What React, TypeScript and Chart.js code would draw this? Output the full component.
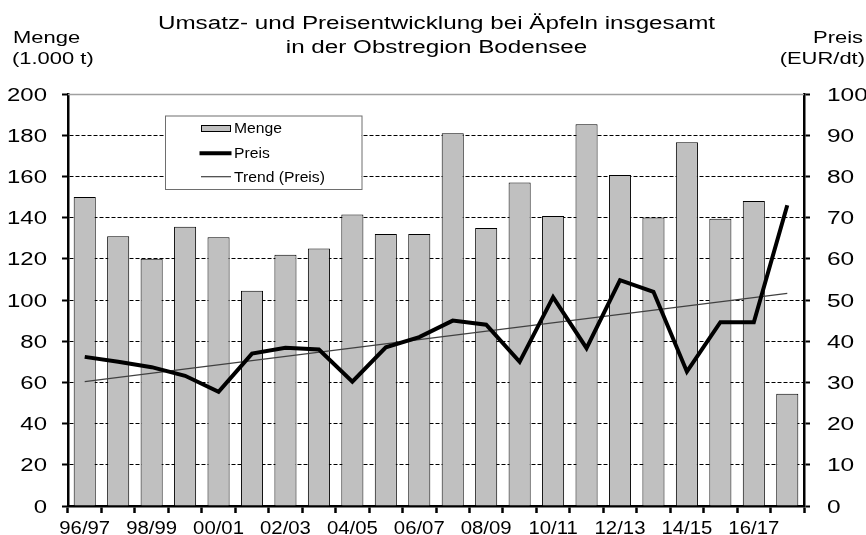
import React, { useEffect, useRef } from "react";
import { Chart, registerables } from "chart.js";

Chart.register(...registerables);

const categories = [
  "96/97", "97/98", "98/99", "99/00", "00/01", "01/02", "02/03", "03/04",
  "04/05", "05/06", "06/07", "07/08", "08/09", "09/10", "10/11", "11/12",
  "12/13", "13/14", "14/15", "15/16", "16/17", "17/18",
];

const mengeValues = [
  150, 131, 120, 135.5, 130.5, 104.5, 122, 125, 141.5, 132, 132,
  181, 135, 157, 140.8, 185.3, 160.7, 140, 176.6, 139.5, 148, 54.5,
];

const preisValues = [
  36.2, 35, 33.7, 31.6, 27.7, 37, 38.4, 38, 30.2, 38.5, 41,
  45, 44, 35, 50.7, 38.3, 54.8, 52, 32.6, 44.6, 44.6, 73,
];

// Trend line: only its two end points, drawn straight by the library (spanGaps)
const trendValues: (number | null)[] = [
  30.2, null, null, null, null, null, null, null, null, null, null,
  null, null, null, null, null, null, null, null, null, null, 51.6,
];

const leftTicks = [0, 20, 40, 60, 80, 100, 120, 140, 160, 180, 200];
const rightTicks = [0, 10, 20, 30, 40, 50, 60, 70, 80, 90, 100];

const titleLines = [
  "Umsatz- und Preisentwicklung bei Äpfeln insgesamt",
  "in der Obstregion Bodensee",
];
const leftAxisTitle = ["Menge", "(1.000 t)"];
const rightAxisTitle = ["Preis", "(EUR/dt)"];
const legendLabels = ["Menge", "Preis", "Trend (Preis)"];

const FONT = "'Liberation Sans', Arial, Helvetica, sans-serif";

function drawText(
  ctx: CanvasRenderingContext2D,
  text: string,
  x: number,
  y: number,
  size: number,
  sx: number,
  align: "left" | "center" | "right",
  baseline: CanvasTextBaseline = "alphabetic"
) {
  ctx.save();
  ctx.font = `${size}px ${FONT}`;
  ctx.fillStyle = "#000";
  ctx.textBaseline = baseline;
  ctx.textAlign = "left";
  const w = ctx.measureText(text).width * sx;
  const left = align === "center" ? x - w / 2 : align === "right" ? x - w : x;
  ctx.translate(left, y);
  ctx.scale(sx, 1);
  ctx.fillText(text, 0, 0);
  ctx.restore();
}

const decorPlugin = {
  id: "decor",
  beforeDatasetsDraw(chart: any) {
    const { ctx, chartArea } = chart;
    ctx.save();
    ctx.strokeStyle = "#a0a0a0";
    ctx.lineWidth = 1.5;
    ctx.beginPath();
    ctx.moveTo(chartArea.left, chartArea.top + 0.5);
    ctx.lineTo(chartArea.right, chartArea.top + 0.5);
    ctx.stroke();
    ctx.restore();
  },
  afterDraw(chart: any) {
    const { ctx } = chart;
    const yS = chart.scales.y;
    const y1S = chart.scales.y1;
    const xS = chart.scales.x;

    // Title
    drawText(ctx, titleLines[0], 436.5, 28.5, 18, 1.345, "center");
    drawText(ctx, titleLines[1], 436.5, 53, 18, 1.345, "center");

    // Axis titles
    drawText(ctx, leftAxisTitle[0], 13, 43, 16.5, 1.33, "left");
    drawText(ctx, leftAxisTitle[1], 12, 64, 16.5, 1.33, "left");
    drawText(ctx, rightAxisTitle[0], 863, 43, 16.5, 1.33, "right");
    drawText(ctx, rightAxisTitle[1], 865, 64, 16.5, 1.33, "right");

    // Left tick labels
    leftTicks.forEach((v) => {
      drawText(ctx, String(v), 47, yS.getPixelForValue(v) + 6.5, 18, 1.33, "right");
    });
    // Right tick labels
    rightTicks.forEach((v) => {
      drawText(ctx, String(v), 827, y1S.getPixelForValue(v) + 6.5, 18, 1.36, "left");
    });
    // X tick labels (every second category)
    categories.forEach((c, i) => {
      if (i % 2 === 0) {
        drawText(ctx, c, xS.getPixelForValue(i), 534, 18, 1.13, "center");
      }
    });

    // Legend box
    const lx = 165, ly = 115.5, lw = 196.5, lh = 73.5;
    ctx.save();
    ctx.fillStyle = "#fff";
    ctx.fillRect(lx, ly, lw, lh);
    ctx.strokeStyle = "#6e6e6e";
    ctx.lineWidth = 1;
    ctx.strokeRect(lx + 0.5, ly + 0.5, lw, lh);

    // Menge patch
    ctx.fillStyle = "#c0c0c0";
    ctx.fillRect(201, 125.5, 30, 6);
    ctx.strokeStyle = "#000";
    ctx.lineWidth = 1;
    ctx.strokeRect(201.5, 125.5, 29, 6);

    // Preis line
    ctx.strokeStyle = "#000";
    ctx.lineWidth = 4;
    ctx.beginPath();
    ctx.moveTo(199.5, 153.3);
    ctx.lineTo(231.5, 153.3);
    ctx.stroke();

    // Trend line
    ctx.strokeStyle = "#404040";
    ctx.lineWidth = 1.2;
    ctx.beginPath();
    ctx.moveTo(201, 176.7);
    ctx.lineTo(231, 176.7);
    ctx.stroke();
    ctx.restore();

    drawText(ctx, legendLabels[0], 234, 133.3, 14, 1.12, "left");
    drawText(ctx, legendLabels[1], 234, 158.3, 14, 1.12, "left");
    drawText(ctx, legendLabels[2], 234, 181.7, 14, 1.12, "left");
  },
};

export default function App() {
  const canvasRef = useRef<HTMLCanvasElement | null>(null);

  useEffect(() => {
    if (!canvasRef.current) return;
    const chart = new Chart(canvasRef.current, {
      type: "bar",
      data: {
        labels: categories,
        datasets: [
          {
            type: "line",
            label: "Preis",
            data: preisValues,
            yAxisID: "y1",
            borderColor: "#000",
            borderWidth: 4,
            pointRadius: 0,
            tension: 0,
            borderJoinStyle: "miter",
            order: 0,
          },
          {
            type: "line",
            label: "Trend (Preis)",
            data: trendValues,
            yAxisID: "y1",
            borderColor: "#404040",
            borderWidth: 1.2,
            pointRadius: 0,
            spanGaps: true,
            order: 1,
          },
          {
            type: "bar",
            label: "Menge",
            data: mengeValues,
            yAxisID: "y",
            backgroundColor: "#c0c0c0",
            borderColor: "#000",
            borderWidth: 1,
            barPercentage: 0.66,
            categoryPercentage: 1,
            order: 2,
          },
        ] as any,
      },
      options: {
        responsive: false,
        animation: false,
        devicePixelRatio: 1,
        layout: { padding: { top: 94, left: 0, right: 0, bottom: 0 } },
        plugins: {
          legend: { display: false },
          title: { display: false },
          tooltip: { enabled: false },
        },
        scales: {
          x: {
            type: "category",
            offset: true,
            grid: {
              offset: true,
              drawOnChartArea: false,
              drawTicks: true,
              tickLength: 7,
              tickWidth: 2.5,
              tickColor: "#000",
            },
            border: { display: true, color: "#000", width: 2.5 },
            ticks: { display: false },
            afterFit: (s: any) => {
              s.height = 29;
            },
          },
          y: {
            position: "left",
            min: 0,
            max: 200,
            ticks: { display: false, stepSize: 20 },
            grid: {
              color: (c: any) =>
                c.tick && (c.tick.value === 0 || c.tick.value === 200)
                  ? "rgba(0,0,0,0)"
                  : "#000",
              lineWidth: 1,
              drawTicks: true,
              tickLength: 6,
              tickWidth: 2,
              tickColor: "#000",
              tickBorderDash: [],
            },
            border: { display: true, color: "#000", width: 2.5, dash: [4, 2] },
            afterFit: (s: any) => {
              s.width = 68;
            },
          },
          y1: {
            position: "right",
            min: 0,
            max: 100,
            ticks: { display: false, stepSize: 10 },
            grid: {
              drawOnChartArea: false,
              drawTicks: true,
              tickLength: 6,
              tickWidth: 2,
              tickColor: "#000",
            },
            border: { display: true, color: "#000", width: 2.5 },
            afterFit: (s: any) => {
              s.width = 62;
            },
          },
        },
      } as any,
      plugins: [decorPlugin],
    });
    return () => chart.destroy();
  }, []);

  return (
    <div
      style={{
        position: "fixed",
        left: 0,
        top: 0,
        width: 866,
        height: 535,
        background: "#fff",
      }}
    >
      <canvas
        ref={canvasRef}
        width={866}
        height={535}
        style={{ display: "block", width: 866, height: 535 }}
      />
    </div>
  );
}
